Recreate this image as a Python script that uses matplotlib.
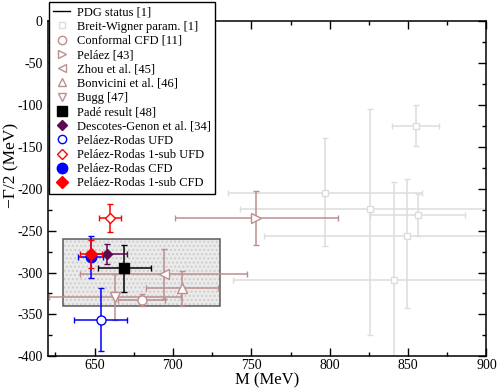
import matplotlib
matplotlib.use("Agg")
import matplotlib.pyplot as plt
from matplotlib.lines import Line2D
from matplotlib.patches import Rectangle
from matplotlib.ticker import MultipleLocator

plt.rcParams["font.family"] = ["Liberation Serif", "DejaVu Serif"]
plt.rcParams["axes.unicode_minus"] = False

# Breit-Wigner parametrisations (PDG) - light gray
bw_m = [855, 797, 826, 856, 849, 841]
bw_m_err = [15, 62, 83, 30, 91, 103]
bw_g = [-125, -205, -224, -232, -256, -309]
bw_g_err_lo = [24, 64, 150, 25, 86, 117]
bw_g_err_hi = [24, 65, 119, 25, 67, 117]

# other determinations: (mass, mass err, -Gamma/2, -Gamma/2 err)
conf_cfd = (680, 15, -333, 7)
pelaez = (753, 52, -235, 32)
zhou = (694, 53, -302, 30)
bonvicini = (706, 23, -319, 21)
bugg = (663, 42, -329, 27)
pade = (669, 17, -295, 28)
descotes = (658, 13, -278, 12)
pr_ufd = (654, 17, -356, 38)
pr_1sub_ufd = (660, 7, -235, 17)
pr_cfd = (647.5, 8, -281, 25)
pr_1sub_cfd = (648, 7, -278, 17)

# shaded band
band_m = (630, 730)
band_g = (-340, -260)

ROSY = "#bc8f8f"
GRAY = "#dddddd"
PURPLE = "#5c0a4f"

fig = plt.figure(figsize=(4.98, 3.9), dpi=100)
ax = fig.add_axes([0.0954, 0.086, 0.8815, 0.861])

ax.add_patch(Rectangle((band_m[0], band_g[0]), band_m[1] - band_m[0],
                       band_g[1] - band_g[0], facecolor="#ebebeb",
                       edgecolor="#cdcdcd", hatch="....", lw=0, zorder=1))
ax.add_patch(Rectangle((band_m[0], band_g[0]), band_m[1] - band_m[0],
                       band_g[1] - band_g[0], facecolor="none",
                       edgecolor="#5a5a5a", lw=1.1, zorder=1.5))

eb = dict(capsize=2, capthick=1.0, elinewidth=1.1, linestyle="none")

ax.errorbar(bw_m, bw_g, xerr=bw_m_err, yerr=[bw_g_err_lo, bw_g_err_hi],
            color=GRAY, marker="s", ms=5, mfc="white", mec=GRAY, mew=1.0,
            zorder=2, **eb)


def point(p, color, marker, ms, mfc, z):
    ax.errorbar([p[0]], [p[2]], xerr=[p[1]], yerr=[p[3]], color=color,
                marker=marker, ms=ms, mfc=mfc, mec=color, mew=1.0,
                zorder=z, **eb)


point(conf_cfd, ROSY, "o", 6.5, "white", 3)
point(pelaez, ROSY, ">", 6.5, "white", 3)
point(zhou, ROSY, "<", 6.5, "white", 3)
point(bonvicini, ROSY, "^", 6.5, "white", 3)
point(bugg, ROSY, "v", 6.5, "white", 3)
point(pade, "black", "s", 6.5, "black", 4)
point(descotes, PURPLE, "D", 5.5, PURPLE, 4)
point(pr_ufd, "blue", "o", 6.5, "white", 4)
point(pr_1sub_ufd, "red", "D", 5, "white", 4)
point(pr_cfd, "blue", "o", 7.5, "blue", 5)
point(pr_1sub_cfd, "red", "D", 6.5, "red", 6)

ax.set_xlim(620, 900)
ax.set_ylim(-400, 0)
ax.xaxis.set_major_locator(MultipleLocator(50))
ax.xaxis.set_minor_locator(MultipleLocator(25))
ax.yaxis.set_major_locator(MultipleLocator(50))
ax.yaxis.set_minor_locator(MultipleLocator(25))
ax.tick_params(which="both", direction="in", top=True, right=True,
               labelsize=10, width=1.0)
ax.tick_params(which="major", length=6)
ax.tick_params(which="minor", length=3)
ax.tick_params(axis="x", pad=2)
for s in ax.spines.values():
    s.set_linewidth(1.1)

ax.set_xlabel("M (MeV)", fontsize=12)
ax.xaxis.set_label_coords(0.5, -0.047)
ax.set_ylabel("\u2212\u0393/2 (MeV)", fontsize=12.5)
ax.yaxis.set_label_coords(-0.064, 0.57)

handles = [
    Line2D([], [], color="black", lw=1.0),
    Line2D([], [], ls="none", marker="s", ms=5, mfc="white", mec=GRAY),
    Line2D([], [], ls="none", marker="o", ms=6, mfc="white", mec=ROSY),
    Line2D([], [], ls="none", marker=">", ms=6, mfc="white", mec=ROSY),
    Line2D([], [], ls="none", marker="<", ms=6, mfc="white", mec=ROSY),
    Line2D([], [], ls="none", marker="^", ms=6, mfc="white", mec=ROSY),
    Line2D([], [], ls="none", marker="v", ms=6, mfc="white", mec=ROSY),
    Line2D([], [], ls="none", marker="s", ms=6.5, color="black"),
    Line2D([], [], ls="none", marker="D", ms=5.5, color=PURPLE),
    Line2D([], [], ls="none", marker="o", ms=6, mfc="white", mec="blue"),
    Line2D([], [], ls="none", marker="D", ms=5, mfc="white", mec="red"),
    Line2D([], [], ls="none", marker="o", ms=7.5, color="blue"),
    Line2D([], [], ls="none", marker="D", ms=6.5, color="red"),
]
labels = [
    "PDG status [1]",
    "Breit-Wigner param. [1]",
    "Conformal CFD [11]",
    "Peláez [43]",
    "Zhou et al. [45]",
    "Bonvicini et al. [46]",
    "Bugg [47]",
    "Padé result [48]",
    "Descotes-Genon et al. [34]",
    "Peláez-Rodas UFD",
    "Peláez-Rodas 1-sub UFD",
    "Peláez-Rodas CFD",
    "Peláez-Rodas 1-sub CFD",
]
leg = ax.legend(handles, labels, loc="upper left",
                bbox_to_anchor=(49 / 498, 1 - 2 / 390),
                bbox_transform=fig.transFigure, fontsize=9, frameon=True,
                fancybox=False, edgecolor="black", framealpha=1,
                borderaxespad=0, borderpad=0.35, labelspacing=0.18,
                handlelength=1.3, handletextpad=0.6)
leg.get_frame().set_linewidth(1.0)
leg.set_zorder(10)

fig.savefig("out.png", dpi=100)
